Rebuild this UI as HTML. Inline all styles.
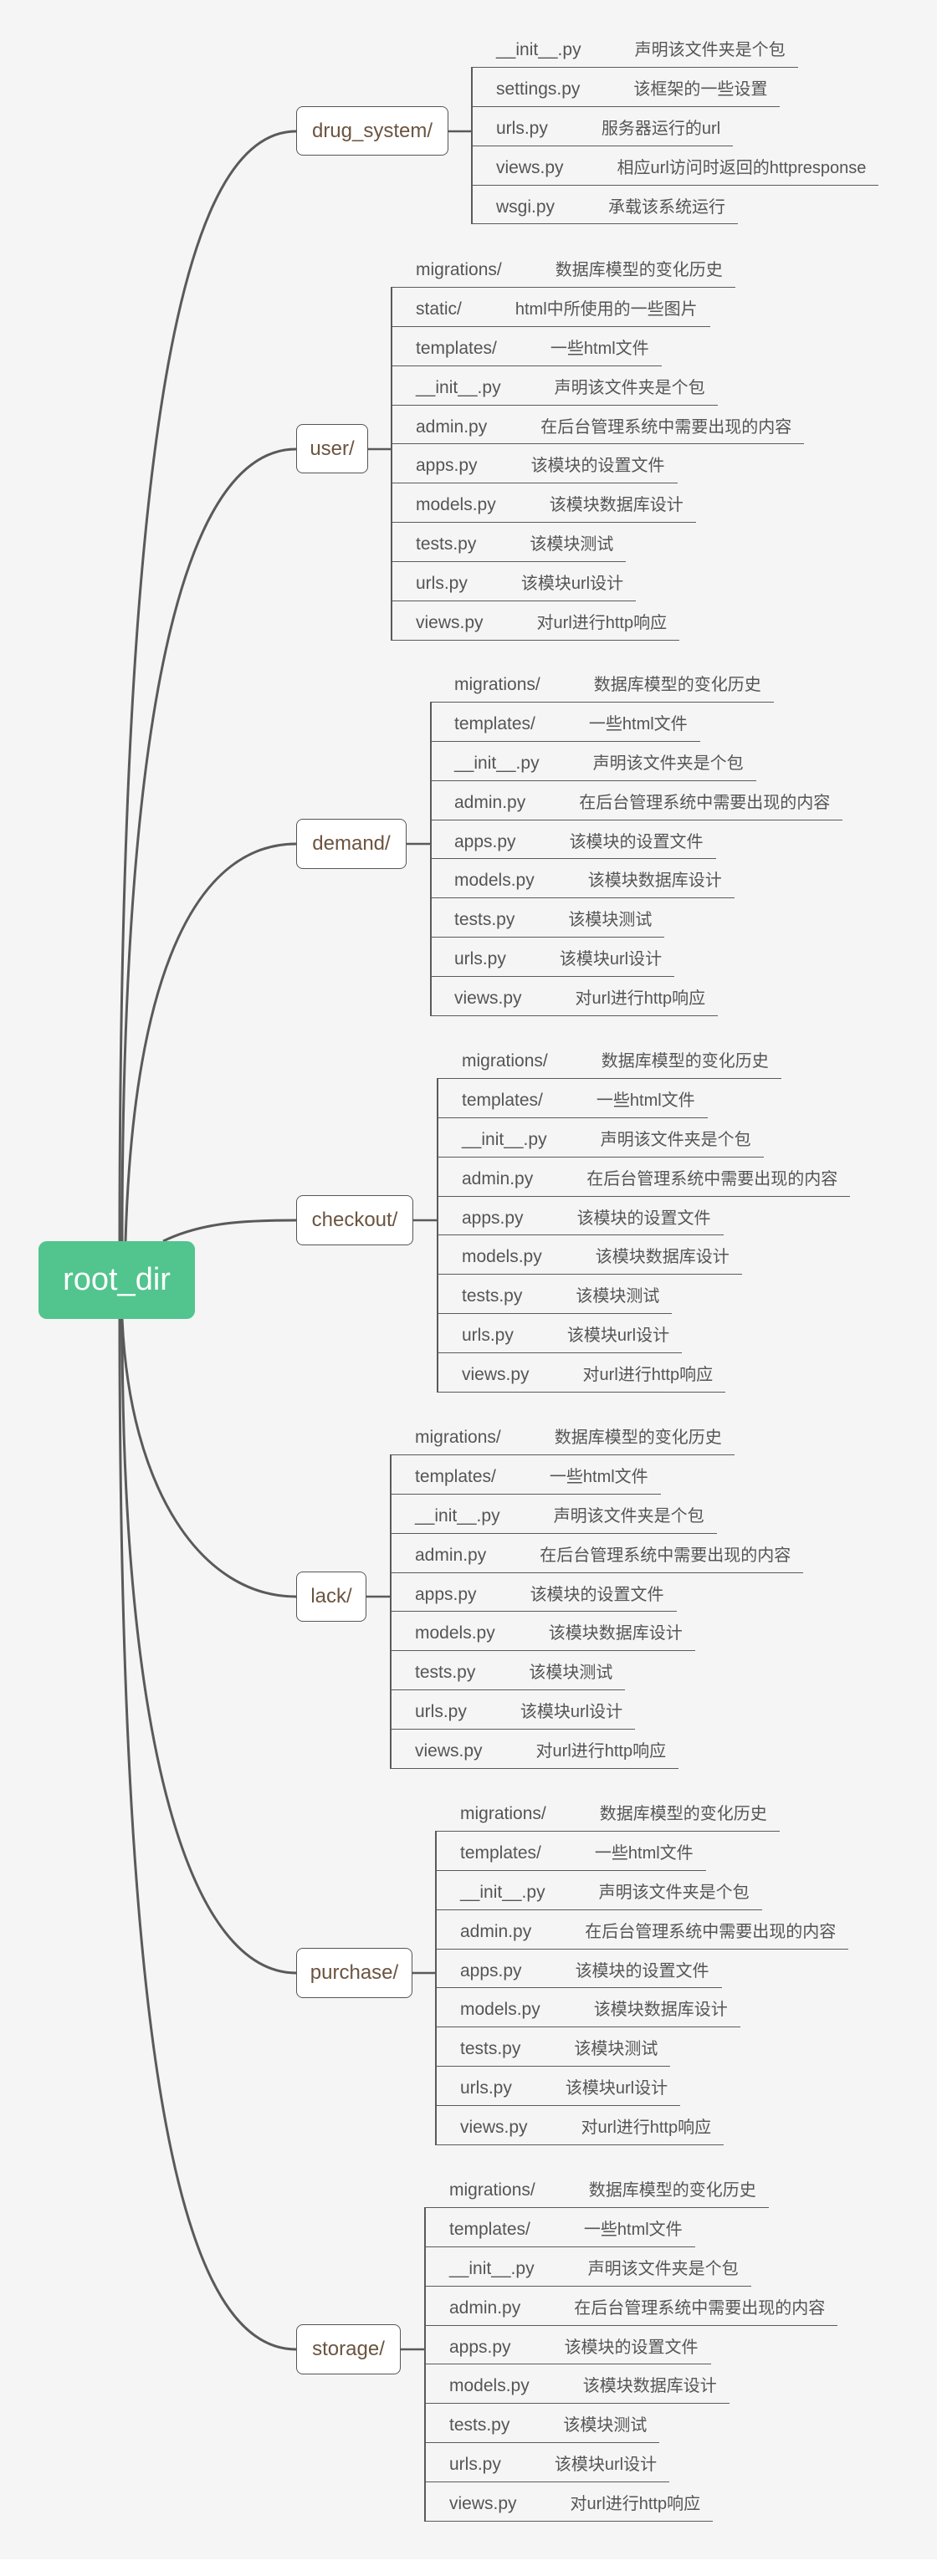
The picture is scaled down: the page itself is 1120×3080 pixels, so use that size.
<!DOCTYPE html>
<html><head><meta charset="utf-8"><style>
html,body{margin:0;padding:0}
body{width:1120px;height:3080px;position:relative;background:#fff;overflow:hidden;font-family:"Liberation Sans","Noto Sans CJK SC",sans-serif}
#bg{position:absolute;left:0;top:0;width:1120px;height:3060px;background:#f5f5f5}
svg{position:absolute;left:0;top:0}
.box{position:absolute;background:#fff;border:1.5px solid #555;border-radius:8px;box-sizing:border-box;color:#6b5440;font-size:24px;display:flex;align-items:center;justify-content:center}
.root{position:absolute;left:46px;top:1484px;width:187px;height:93px;background:#52c48e;border-radius:10px;color:#fff;font-size:38px;display:flex;align-items:center;justify-content:center}
.g{position:absolute}
.r{height:46.9px;box-sizing:border-box;border-bottom:1.5px solid #5a5a5a;width:max-content;padding-top:6px;line-height:40px;padding-right:15px;white-space:nowrap;color:#555}
.n{font-size:21px}
.d{font-size:20px;margin-left:64px}
.v{position:absolute;width:1.5px;background:#5a5a5a}
</style></head><body>
<div id="bg"></div>
<svg width="1120" height="3080" fill="none" stroke="#5a5a5a" stroke-width="3">
<path d="M143,1484 C143,500 220,157 354,157"/>
<path d="M146,1484 C146,800 230,537 354,537"/>
<path d="M150,1484 C160,1150 240,1009 354,1009"/>
<path d="M195,1484 C240,1462 290,1459 354,1459"/>
<path d="M146,1577 C155,1780 240,1909 354,1909"/>
<path d="M146,1577 C146,2100 230,2359 354,2359"/>
<path d="M143,1577 C143,2500 220,2809 354,2809"/>
<g stroke-width="2.5">
<path d="M536,157 H564"/>
<path d="M440,537 H468"/>
<path d="M486,1009 H515"/>
<path d="M494,1459 H523"/>
<path d="M438,1909 H467"/>
<path d="M493,2359 H521"/>
<path d="M479,2809 H508"/>
</g>
</svg>
<div class="root">root_dir</div>

<div class="box" style="left:354px;top:127px;width:182px;height:59px">drug_system/</div>
<div class="v" style="left:563px;top:80px;height:188px"></div>
<div class="g" style="left:564px;top:34px">
<div class="r" style="padding-left:29px"><span class="n">__init__.py</span><span class="d">声明该文件夹是个包</span></div>
<div class="r" style="padding-left:29px"><span class="n">settings.py</span><span class="d">该框架的一些设置</span></div>
<div class="r" style="padding-left:29px"><span class="n">urls.py</span><span class="d">服务器运行的url</span></div>
<div class="r" style="padding-left:29px"><span class="n">views.py</span><span class="d">相应url访问时返回的httpresponse</span></div>
<div class="r" style="padding-left:29px"><span class="n">wsgi.py</span><span class="d">承载该系统运行</span></div>
</div>

<div class="box" style="left:354px;top:507px;width:86px;height:59px">user/</div>
<div class="v" style="left:467px;top:343px;height:423px"></div>
<div class="g" style="left:468px;top:297px">
<div class="r" style="padding-left:29px"><span class="n">migrations/</span><span class="d">数据库模型的变化历史</span></div>
<div class="r" style="padding-left:29px"><span class="n">static/</span><span class="d">html中所使用的一些图片</span></div>
<div class="r" style="padding-left:29px"><span class="n">templates/</span><span class="d">一些html文件</span></div>
<div class="r" style="padding-left:29px"><span class="n">__init__.py</span><span class="d">声明该文件夹是个包</span></div>
<div class="r" style="padding-left:29px"><span class="n">admin.py</span><span class="d">在后台管理系统中需要出现的内容</span></div>
<div class="r" style="padding-left:29px"><span class="n">apps.py</span><span class="d">该模块的设置文件</span></div>
<div class="r" style="padding-left:29px"><span class="n">models.py</span><span class="d">该模块数据库设计</span></div>
<div class="r" style="padding-left:29px"><span class="n">tests.py</span><span class="d">该模块测试</span></div>
<div class="r" style="padding-left:29px"><span class="n">urls.py</span><span class="d">该模块url设计</span></div>
<div class="r" style="padding-left:29px"><span class="n">views.py</span><span class="d">对url进行http响应</span></div>
</div>

<div class="box" style="left:354px;top:979px;width:132px;height:60px">demand/</div>
<div class="v" style="left:514px;top:839px;height:376px"></div>
<div class="g" style="left:515px;top:793px">
<div class="r" style="padding-left:28px"><span class="n">migrations/</span><span class="d">数据库模型的变化历史</span></div>
<div class="r" style="padding-left:28px"><span class="n">templates/</span><span class="d">一些html文件</span></div>
<div class="r" style="padding-left:28px"><span class="n">__init__.py</span><span class="d">声明该文件夹是个包</span></div>
<div class="r" style="padding-left:28px"><span class="n">admin.py</span><span class="d">在后台管理系统中需要出现的内容</span></div>
<div class="r" style="padding-left:28px"><span class="n">apps.py</span><span class="d">该模块的设置文件</span></div>
<div class="r" style="padding-left:28px"><span class="n">models.py</span><span class="d">该模块数据库设计</span></div>
<div class="r" style="padding-left:28px"><span class="n">tests.py</span><span class="d">该模块测试</span></div>
<div class="r" style="padding-left:28px"><span class="n">urls.py</span><span class="d">该模块url设计</span></div>
<div class="r" style="padding-left:28px"><span class="n">views.py</span><span class="d">对url进行http响应</span></div>
</div>

<div class="box" style="left:354px;top:1429px;width:140px;height:60px">checkout/</div>
<div class="v" style="left:522px;top:1289px;height:376px"></div>
<div class="g" style="left:523px;top:1243px">
<div class="r" style="padding-left:29px"><span class="n">migrations/</span><span class="d">数据库模型的变化历史</span></div>
<div class="r" style="padding-left:29px"><span class="n">templates/</span><span class="d">一些html文件</span></div>
<div class="r" style="padding-left:29px"><span class="n">__init__.py</span><span class="d">声明该文件夹是个包</span></div>
<div class="r" style="padding-left:29px"><span class="n">admin.py</span><span class="d">在后台管理系统中需要出现的内容</span></div>
<div class="r" style="padding-left:29px"><span class="n">apps.py</span><span class="d">该模块的设置文件</span></div>
<div class="r" style="padding-left:29px"><span class="n">models.py</span><span class="d">该模块数据库设计</span></div>
<div class="r" style="padding-left:29px"><span class="n">tests.py</span><span class="d">该模块测试</span></div>
<div class="r" style="padding-left:29px"><span class="n">urls.py</span><span class="d">该模块url设计</span></div>
<div class="r" style="padding-left:29px"><span class="n">views.py</span><span class="d">对url进行http响应</span></div>
</div>

<div class="box" style="left:354px;top:1879px;width:84px;height:60px">lack/</div>
<div class="v" style="left:466px;top:1739px;height:376px"></div>
<div class="g" style="left:467px;top:1693px">
<div class="r" style="padding-left:29px"><span class="n">migrations/</span><span class="d">数据库模型的变化历史</span></div>
<div class="r" style="padding-left:29px"><span class="n">templates/</span><span class="d">一些html文件</span></div>
<div class="r" style="padding-left:29px"><span class="n">__init__.py</span><span class="d">声明该文件夹是个包</span></div>
<div class="r" style="padding-left:29px"><span class="n">admin.py</span><span class="d">在后台管理系统中需要出现的内容</span></div>
<div class="r" style="padding-left:29px"><span class="n">apps.py</span><span class="d">该模块的设置文件</span></div>
<div class="r" style="padding-left:29px"><span class="n">models.py</span><span class="d">该模块数据库设计</span></div>
<div class="r" style="padding-left:29px"><span class="n">tests.py</span><span class="d">该模块测试</span></div>
<div class="r" style="padding-left:29px"><span class="n">urls.py</span><span class="d">该模块url设计</span></div>
<div class="r" style="padding-left:29px"><span class="n">views.py</span><span class="d">对url进行http响应</span></div>
</div>

<div class="box" style="left:354px;top:2329px;width:139px;height:60px">purchase/</div>
<div class="v" style="left:520px;top:2189px;height:376px"></div>
<div class="g" style="left:521px;top:2143px">
<div class="r" style="padding-left:29px"><span class="n">migrations/</span><span class="d">数据库模型的变化历史</span></div>
<div class="r" style="padding-left:29px"><span class="n">templates/</span><span class="d">一些html文件</span></div>
<div class="r" style="padding-left:29px"><span class="n">__init__.py</span><span class="d">声明该文件夹是个包</span></div>
<div class="r" style="padding-left:29px"><span class="n">admin.py</span><span class="d">在后台管理系统中需要出现的内容</span></div>
<div class="r" style="padding-left:29px"><span class="n">apps.py</span><span class="d">该模块的设置文件</span></div>
<div class="r" style="padding-left:29px"><span class="n">models.py</span><span class="d">该模块数据库设计</span></div>
<div class="r" style="padding-left:29px"><span class="n">tests.py</span><span class="d">该模块测试</span></div>
<div class="r" style="padding-left:29px"><span class="n">urls.py</span><span class="d">该模块url设计</span></div>
<div class="r" style="padding-left:29px"><span class="n">views.py</span><span class="d">对url进行http响应</span></div>
</div>

<div class="box" style="left:354px;top:2779px;width:125px;height:60px">storage/</div>
<div class="v" style="left:507px;top:2639px;height:376px"></div>
<div class="g" style="left:508px;top:2593px">
<div class="r" style="padding-left:29px"><span class="n">migrations/</span><span class="d">数据库模型的变化历史</span></div>
<div class="r" style="padding-left:29px"><span class="n">templates/</span><span class="d">一些html文件</span></div>
<div class="r" style="padding-left:29px"><span class="n">__init__.py</span><span class="d">声明该文件夹是个包</span></div>
<div class="r" style="padding-left:29px"><span class="n">admin.py</span><span class="d">在后台管理系统中需要出现的内容</span></div>
<div class="r" style="padding-left:29px"><span class="n">apps.py</span><span class="d">该模块的设置文件</span></div>
<div class="r" style="padding-left:29px"><span class="n">models.py</span><span class="d">该模块数据库设计</span></div>
<div class="r" style="padding-left:29px"><span class="n">tests.py</span><span class="d">该模块测试</span></div>
<div class="r" style="padding-left:29px"><span class="n">urls.py</span><span class="d">该模块url设计</span></div>
<div class="r" style="padding-left:29px"><span class="n">views.py</span><span class="d">对url进行http响应</span></div>
</div>
</body></html>
